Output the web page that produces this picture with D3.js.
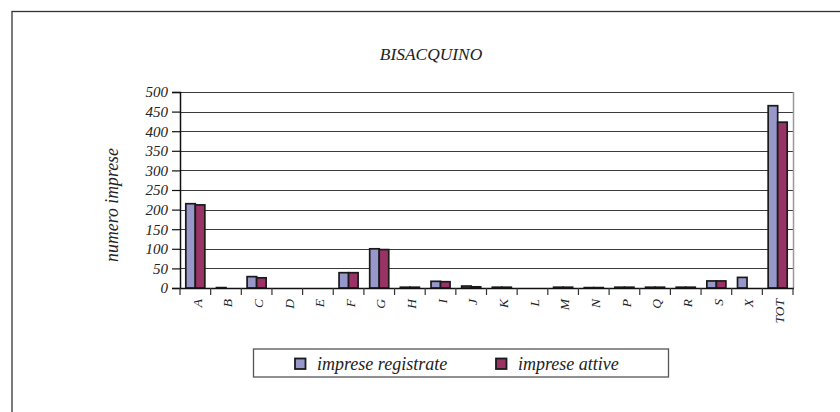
<!DOCTYPE html>
<html>
<head>
<meta charset="utf-8">
<script src="https://cdn.jsdelivr.net/npm/d3@7"></script>
<style>
  html, body { margin: 0; padding: 0; background: #fff; }
  svg { display: block; }
  svg text { font-family: "Liberation Serif", "Times New Roman", serif !important; font-style: italic; fill: #222; }
</style>
</head>
<body>
<svg id="chart" width="840" height="412"></svg>
<script>
const title = "BISACQUINO";
const yLabel = "numero imprese";
const categories = ["A","B","C","D","E","F","G","H","I","J","K","L","M","N","P","Q","R","S","X","TOT"];
const seriesNames = ["imprese registrate", "imprese attive"];
const registrate = [215, 1, 29, 0, 0, 39, 100, 2, 17, 5, 2, 0, 2, 1, 2, 2, 2, 18, 27, 465];
const attive     = [212, 0, 26, 0, 0, 39, 98, 2, 16, 3, 2, 0, 2, 1, 2, 2, 2, 18, 0, 423];
const yTicks = [0, 50, 100, 150, 200, 250, 300, 350, 400, 450, 500];
const colors = ["#9797c9", "#993366"];

const FONT = "'Liberation Serif', 'Times New Roman', serif";
const svg = d3.select("#chart");
const m = { left: 180, right: 793, top: 92, bottom: 288 };

// outer frame
svg.append("rect").attr("x", 12).attr("y", 11.5).attr("width", 840).attr("height", 420)
  .attr("fill", "none").attr("stroke", "#333").attr("stroke-width", 1.3);

const x = d3.scaleBand().domain(categories).range([m.left, m.right]).padding(0);
const x1 = d3.scaleBand().domain(seriesNames).range([0, x.bandwidth()]).paddingInner(0).paddingOuter(0.61);
const y = d3.scaleLinear().domain([0, 500]).range([m.bottom, m.top]);

// gridlines
svg.append("g").selectAll("line").data(yTicks.filter(t => t > 0)).join("line")
  .attr("x1", m.left).attr("x2", m.right)
  .attr("y1", d => Math.round(y(d)) + 0.5).attr("y2", d => Math.round(y(d)) + 0.5)
  .attr("stroke", "#3a3a3a").attr("stroke-width", 1.2);

// right border of plot area
svg.append("line").attr("x1", m.right + 0.5).attr("x2", m.right + 0.5)
  .attr("y1", m.top).attr("y2", m.bottom).attr("stroke", "#999").attr("stroke-width", 1.5);

// bars
const data = categories.map((c, i) => ({ cat: c, vals: [registrate[i], attive[i]] }));
const groups = svg.append("g").selectAll("g").data(data).join("g")
  .attr("transform", d => `translate(${x(d.cat)},0)`);
groups.selectAll("rect").data(d => d.vals.map((v, j) => ({ v, s: seriesNames[j], j })))
  .join("rect")
  .filter(d => d.v > 0)
  .attr("x", d => x1(d.s))
  .attr("y", d => y(d.v))
  .attr("width", x1.bandwidth())
  .attr("height", d => y(0) - y(d.v))
  .attr("fill", d => colors[d.j])
  .attr("stroke", "#1a1a1a").attr("stroke-width", 1.7);

// y axis
const yAxis = d3.axisLeft(y).tickValues(yTicks).tickSize(8).tickPadding(4);
const gy = svg.append("g").attr("transform", `translate(${m.left},0)`).call(yAxis)
  .attr("font-family", null);
gy.select(".domain").attr("stroke", "#111").attr("stroke-width", 1.5);
gy.selectAll(".tick line").attr("stroke", "#111").attr("stroke-width", 1.2);
gy.selectAll(".tick text").attr("font-size", 15).style("font-family", FONT)
  .style("font-style", "italic").attr("fill", "#222");

// x axis with ticks at band boundaries
const gx = svg.append("g").attr("transform", `translate(0,${m.bottom})`);
gx.append("line").attr("x1", m.left).attr("x2", m.right + 1).attr("y1", 0.5).attr("y2", 0.5)
  .attr("stroke", "#111").attr("stroke-width", 1.6);
const bounds = categories.map(c => x(c)).concat([m.right]);
gx.selectAll("line.tk").data(bounds).join("line").attr("class", "tk")
  .attr("x1", d => d).attr("x2", d => d).attr("y1", 0).attr("y2", 7)
  .attr("stroke", "#333").attr("stroke-width", 1.2);
gx.selectAll("text").data(categories).join("text")
  .attr("transform", d => `translate(${x(d) + x.bandwidth() / 2 + 1.5},11) rotate(-90)`)
  .attr("text-anchor", "end").attr("dy", "0.35em")
  .style("font-family", FONT)
  .attr("font-size", 13.5).text(d => d);

// title
svg.append("text").attr("x", 431).attr("y", 60).attr("text-anchor", "middle")
  .style("font-family", FONT).attr("font-size", 17.4).text(title);

// y label
svg.append("text").attr("transform", "translate(118,205) rotate(-90)")
  .attr("text-anchor", "middle").style("font-family", FONT).attr("font-size", 17.8).text(yLabel);

// legend
const lg = svg.append("g");
lg.append("rect").attr("x", 253.5).attr("y", 349).attr("width", 415).attr("height", 28)
  .attr("fill", "#fff").attr("stroke", "#555").attr("stroke-width", 1.3);
const legX = [295, 496];
seriesNames.forEach((s, i) => {
  lg.append("rect").attr("x", legX[i]).attr("y", 358.5).attr("width", 10.5).attr("height", 10.5)
    .attr("fill", colors[i]).attr("stroke", "#1a1a1a").attr("stroke-width", 1.8);
  lg.append("text").attr("x", legX[i] + 22).attr("y", 370).style("font-family", FONT)
    .attr("font-size", 18).text(s);
});
</script>
</body>
</html>
